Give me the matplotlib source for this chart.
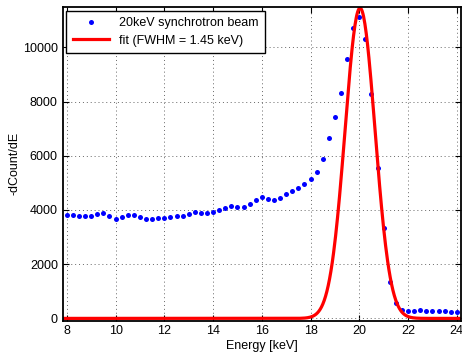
import numpy as np
import matplotlib
matplotlib.use("Agg")
import matplotlib.pyplot as plt

plt.rcParams['font.family'] = ['Liberation Sans', 'DejaVu Sans']

# measured points, 8 to 24 keV in 0.25 keV steps
energy = np.arange(8.0, 24.01, 0.25)
counts = [3810, 3800, 3790, 3760, 3760, 3840, 3875, 3760, 3675, 3725,
          3800, 3800, 3725, 3675, 3660, 3690, 3700, 3725, 3760, 3790,
          3860, 3910, 3875, 3875, 3935, 3985, 4060, 4130, 4105, 4105,
          4205, 4375, 4475, 4415, 4375, 4440, 4575, 4685, 4800, 4970,
          5160, 5385, 5880, 6640, 7415, 8300, 9555, 10720, 11105, 10305,
          8275, 5535, 3320, 1330, 553, 306, 280, 290, 306, 290,
          280, 270, 258, 245, 232]

# gaussian fit parameters
fit_amp = 11450
fit_center = 20.03
fit_fwhm = 1.45

sigma = fit_fwhm / (2 * np.sqrt(2 * np.log(2)))
e_fit = np.linspace(7.8, 24.2, 600)
fit = fit_amp * np.exp(-(e_fit - fit_center) ** 2 / (2 * sigma ** 2))

fig = plt.figure(figsize=(4.62, 3.61), dpi=100)
ax = fig.add_axes([0.1357, 0.112, 0.862, 0.868])

ax.plot(energy, counts, 'o', color='#0000ff', markersize=3.6, markeredgewidth=0,
        label='20keV synchrotron beam')
ax.plot(e_fit, fit, '-', color='#ff0000', linewidth=2.3,
        label='fit (FWHM = %.2f keV)' % fit_fwhm)

ax.set_xlim(7.83, 24.17)
ax.set_ylim(-80, 11480)
ax.set_xticks(np.arange(8, 25, 2))
ax.set_yticks(np.arange(0, 10001, 2000))
ax.grid(True, color='#666666', linestyle=(0, (1, 3)), linewidth=0.7)
ax.tick_params(direction='in', top=True, right=True, labelsize=9, length=4)
for s in ax.spines.values():
    s.set_linewidth(1.3)

ax.set_xlabel('Energy [keV]', fontsize=9, labelpad=2)
ax.set_ylabel('-dCount/dE', fontsize=9, labelpad=2)

leg = ax.legend(loc='upper left', fontsize=9, fancybox=False, framealpha=1,
                edgecolor='black', borderaxespad=0.3, handlelength=2.9,
                handletextpad=0.8, borderpad=0.5, labelspacing=0.45)
leg.get_frame().set_linewidth(1.0)

fig.savefig('out.png', dpi=100)
